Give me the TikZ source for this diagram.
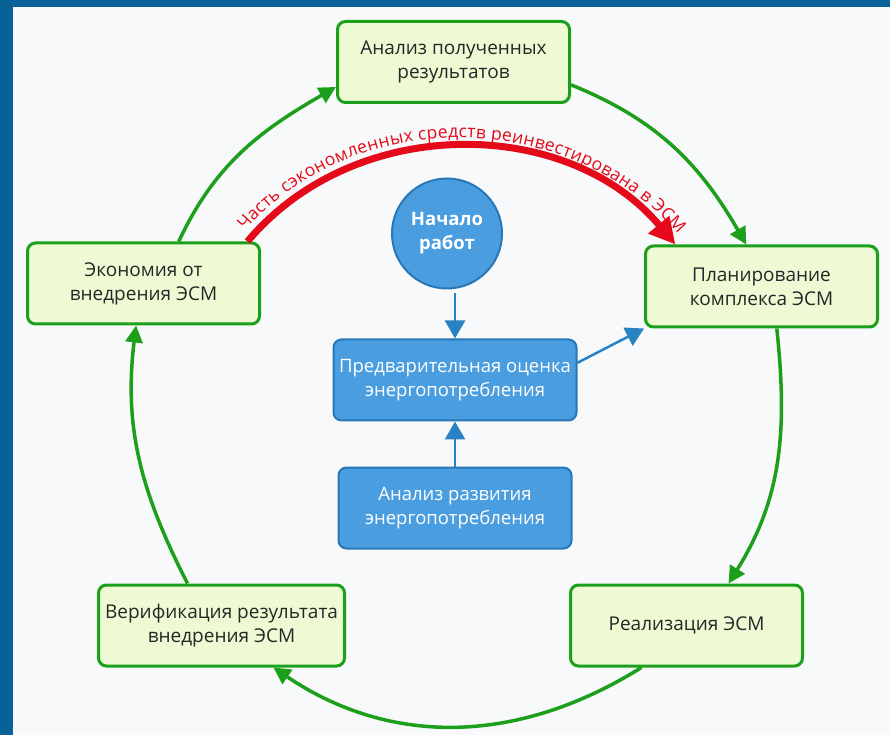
\documentclass[tikz,border=0pt]{standalone}
\usepackage{fontspec}
\setsansfont{Open Sans}
\usetikzlibrary{arrows.meta, positioning, decorations.text}
\definecolor{frameBlue}{RGB}{8,98,152}
\definecolor{pageWhite}{RGB}{248,249,250}
\definecolor{cycleGreen}{RGB}{28,160,28}
\definecolor{stageFill}{RGB}{238,250,212}
\definecolor{taskBlue}{RGB}{74,157,222}
\definecolor{taskBorder}{RGB}{40,120,185}
\definecolor{linkBlue}{RGB}{40,130,195}
\definecolor{reinvRed}{RGB}{228,10,25}

\begin{document}
\begin{tikzpicture}[
    x=1pt, y=1pt,
    stage/.style={rectangle, draw=cycleGreen, line width=3pt, rounded corners=8pt, fill=stageFill, minimum width=232pt, minimum height=81pt, align=center, font=\sffamily\fontsize{19}{24}\selectfont, text=black!85},
    task/.style={rectangle, draw=taskBorder, line width=2pt, rounded corners=8pt, fill=taskBlue, minimum width=233pt, minimum height=81pt, align=center, font=\sffamily\fontsize{18.5}{24}\selectfont, text=white},
    origin/.style={circle, draw=taskBorder, line width=2pt, fill=taskBlue, minimum size=110pt, align=center, font=\sffamily\bfseries\fontsize{18.5}{24}\selectfont, text=white},
    cycle/.style={-{Triangle[length=17pt, width=17pt]}, line width=3.5pt, draw=cycleGreen},
    link/.style={-{Triangle[length=18pt, width=20pt]}, line width=2.5pt, draw=linkBlue},
    reinvest/.style={-{Triangle[length=26pt, width=26pt]}, line width=7pt, draw=reinvRed}
]

% frame and page
\fill[frameBlue] (0,0) rectangle (890,735);
\fill[pageWhite] (13,0) rectangle (890,728);

% cycle stages
\node[stage] (res) at (453.5,673) {Анализ полученных\\результатов};
\node[stage, below right=140.5pt and 73pt of res] (plan) {Планирование\\комплекса ЭСМ};
\node[stage, below left=137.5pt and 75pt of res] (econ) {Экономия от\\внедрения ЭСМ};
\node[stage, below=255pt of plan, xshift=-75pt] (impl) {Реализация ЭСМ};
\node[stage, minimum width=246pt, left=223pt of impl] (verif) {Верификация результата\\внедрения ЭСМ};

% preliminary work
\node[origin, below=73.5pt of res, xshift=-6.5pt] (start) {Начало\\работ};
\node[task, minimum width=243pt, below=49pt of start, xshift=8pt] (pre) {Предварительная оценка\\энергопотребления};
\node[task, below=45pt of pre] (dev) {Анализ развития\\энергопотребления};

\draw[cycle] (res.-11) to[out=-22, in=120] (plan.110);
\draw[cycle] (plan.-70) to[out=-84, in=58] (impl.45);
\draw[cycle] (impl.-137) to[out=-148, in=-34] (verif.-39);
\draw[cycle] (verif.129) to[out=117, in=-97] (econ.-100);
\draw[cycle] (econ.50) to[out=65, in=-150] (res.-168);

\draw[link, shorten <=4pt] (start.south -| pre.north) -- (pre.north);
\draw[link] (dev.north) -- (pre.south);
\draw[link] (pre.8) -- (plan.south west);

% reinvestment
\draw[reinvest] (econ.22) to[out=50, in=130] (plan.154);
\path[decorate, decoration={text along path, raise=9pt, text align=center,
    text={|\sffamily\fontsize{17.5}{17.5}\selectfont\color{reinvRed}|Часть сэкономленных средств реинвестирована в ЭСМ}}]
    (econ.22) to[out=50, in=130] (plan.154);

\end{tikzpicture}
\end{document}
